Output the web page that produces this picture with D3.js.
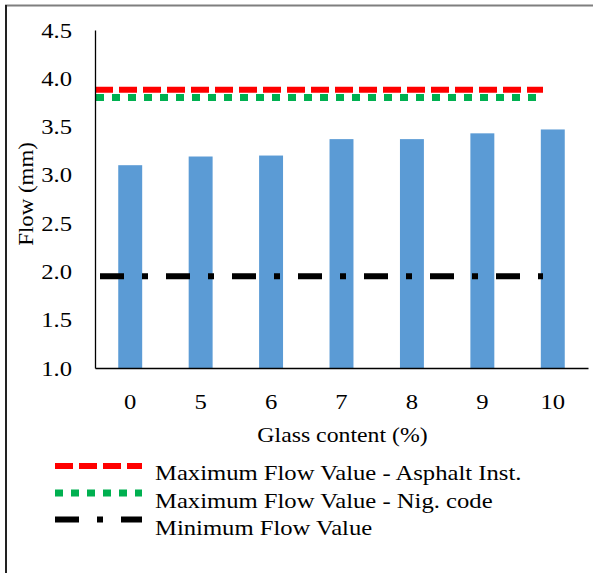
<!DOCTYPE html>
<html>
<head>
<meta charset="utf-8">
<script src="https://cdn.jsdelivr.net/npm/d3@7"></script>
<style>
  html, body { margin: 0; padding: 0; background: #fff; }
  svg { display: block; }
  text { font-family: "Liberation Serif", "DejaVu Serif", serif; fill: #000; }
</style>
</head>
<body>
<svg id="chart" width="593" height="573"></svg>
<script>
// Glass content (%) categories and measured flow values (mm)
const categories = ["0", "5", "6", "7", "8", "9", "10"];
const flowValues = [3.10, 3.19, 3.20, 3.37, 3.37, 3.43, 3.47];

// Specification limits (mm)
const maxAsphaltInst = 3.88;
const maxNigCode = 3.80;
const minFlow = 1.95;

const yTicks = [1.0, 1.5, 2.0, 2.5, 3.0, 3.5, 4.0, 4.5];

const legendLabels = [
  "Maximum Flow Value - Asphalt Inst.",
  "Maximum Flow Value - Nig. code",
  "Minimum Flow Value"
];

const svg = d3.select("#chart");

// widen a text run slightly so the serif face reads like a wider book face
function widen(sel, factor) {
  sel.each(function () {
    const w = this.getComputedTextLength();
    d3.select(this).attr("textLength", w * factor).attr("lengthAdjust", "spacingAndGlyphs");
  });
}

// outer frame (top and left edges visible)
svg.append("line").attr("x1", 5).attr("x2", 593).attr("y1", 5.5).attr("y2", 5.5)
  .attr("stroke", "#7f7f7f").attr("stroke-width", 2);
svg.append("line").attr("x1", 6).attr("x2", 6).attr("y1", 5).attr("y2", 573)
  .attr("stroke", "#222").attr("stroke-width", 2);

const plot = { left: 95, right: 588, top: 30, bottom: 368 };

const x = d3.scaleBand()
  .domain(categories)
  .range([plot.left, plot.right])
  .paddingInner(0.66)
  .paddingOuter(0.33);

const y = d3.scaleLinear().domain([1, 4.5]).range([plot.bottom, plot.top]);

// reference lines span from the axis to just short of the last bar
const xLine = d3.scalePoint().domain(categories).range([plot.left, 543]);

// bars
svg.append("g").selectAll("rect")
  .data(flowValues)
  .join("rect")
  .attr("x", (d, i) => x(categories[i]))
  .attr("width", x.bandwidth())
  .attr("y", d => y(d))
  .attr("height", d => y(1) - y(d))
  .attr("fill", "#5B9BD5");

const styles = [
  { value: maxAsphaltInst, color: "#FF0000", dash: "18,6", width: 6, offset: 0 },
  { value: maxNigCode, color: "#00B050", dash: "8,8", width: 7, offset: -1 },
  { value: minFlow, color: "#000000", dash: "24,18,6,18", width: 6, offset: -5 }
];

const lineGen = d3.line().x(d => xLine(d.c)).y(d => y(d.v));

styles.forEach(s => {
  svg.append("path")
    .datum(categories.map(c => ({ c, v: s.value })))
    .attr("d", lineGen)
    .attr("fill", "none")
    .attr("stroke", s.color)
    .attr("stroke-width", s.width)
    .attr("stroke-dasharray", s.dash)
    .attr("stroke-dashoffset", s.offset);
});

// axes
const yAxis = d3.axisLeft(y).tickValues(yTicks).tickFormat(d3.format(".1f")).tickSize(0).tickPadding(23);
const gy = svg.append("g").attr("transform", `translate(${plot.left},0)`).call(yAxis);
gy.attr("font-size", null).attr("font-family", null);
gy.select(".domain").attr("stroke", "#000").attr("stroke-width", 1.3);
gy.selectAll("text").attr("font-size", 22).call(widen, 1.12);

const xAxis = d3.axisBottom(x).tickSize(0).tickPadding(25);
const gx = svg.append("g").attr("transform", `translate(0,${plot.bottom})`).call(xAxis);
gx.attr("font-size", null).attr("font-family", null);
gx.select(".domain").attr("stroke", "#000").attr("stroke-width", 1.3);
gx.selectAll("text").attr("font-size", 22).call(widen, 1.12);

// axis titles
svg.append("text")
  .attr("transform", `translate(33,194) rotate(-90)`)
  .attr("text-anchor", "middle")
  .attr("font-size", 22)
  .text("Flow (mm)")
  .call(widen, 1.04);

svg.append("text")
  .attr("x", 342.5).attr("y", 442)
  .attr("text-anchor", "middle")
  .attr("font-size", 22)
  .text("Glass content (%)")
  .call(widen, 1.08);

// legend
const legendLineY = [466, 493, 519.5];
const legendTextY = [480, 507.5, 535];
const legend = svg.append("g");
styles.forEach((s, i) => {
  legend.append("line")
    .attr("x1", 55).attr("x2", 142).attr("y1", legendLineY[i]).attr("y2", legendLineY[i])
    .attr("stroke", s.color)
    .attr("stroke-width", s.width)
    .attr("stroke-dasharray", s.dash);
  legend.append("text")
    .attr("x", 155).attr("y", legendTextY[i])
    .attr("font-size", 22)
    .text(legendLabels[i])
    .call(widen, 1.12);
});
</script>
</body>
</html>
